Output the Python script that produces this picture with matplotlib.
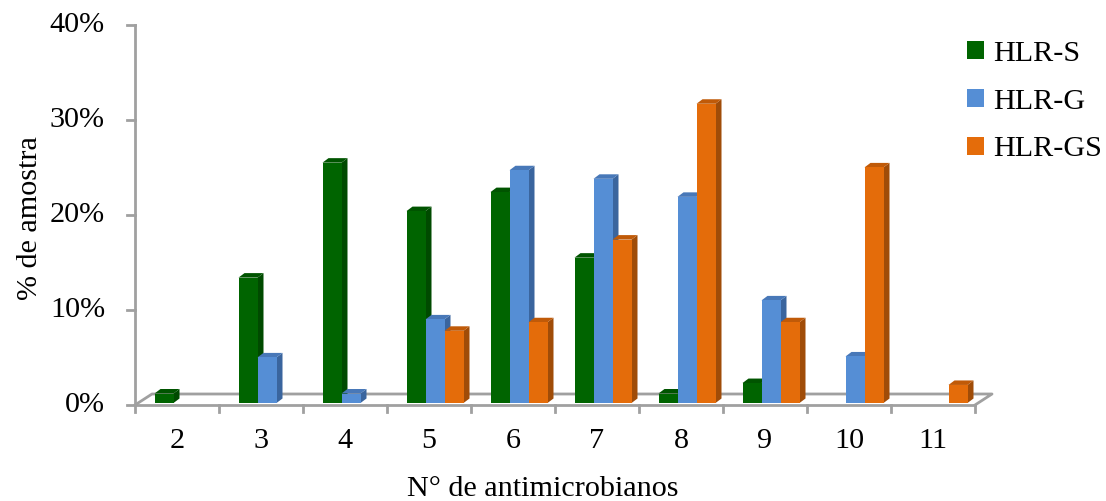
import matplotlib
matplotlib.use("Agg")
import matplotlib.pyplot as plt
from matplotlib.patches import Patch
import numpy as np

categories = ["2", "3", "4", "5", "6", "7", "8", "9", "10", "11"]
series_names = ["HLR-S", "HLR-G", "HLR-GS"]
hlr_s = [1.0, 13.2, 25.3, 20.2, 22.2, 15.3, 1.0, 2.1, 0.0, 0.0]
hlr_g = [0.0, 4.8, 1.0, 8.8, 24.5, 23.6, 21.7, 10.8, 4.9, 0.0]
hlr_gs = [0.0, 0.0, 0.0, 7.6, 8.5, 17.2, 31.5, 8.5, 24.8, 1.9]
yticks = [0, 10, 20, 30, 40]
ytick_labels = ["0%", "10%", "20%", "30%", "40%"]

front = ["#006400", "#558ED5", "#E46C0A"]
side = ["#004A00", "#3A659E", "#A04C08"]
top = ["#005400", "#4878B8", "#C05A08"]

plt.rcParams['font.family'] = ['Liberation Serif', 'DejaVu Serif']
FS = 21.7
W, H = 1106, 501
fig = plt.figure(figsize=(W / 100, H / 100), dpi=100)
x0, x1, y0, y1 = 135, 975, 405, 25
ax = fig.add_axes([x0 / W, 1 - y0 / H, (x1 - x0) / W, (y0 - y1) / H])
n = len(categories)
ax.set_xlim(-0.5, n - 0.5)
ax.set_ylim(0, 40)
ax.axis('off')

upx = n / (x1 - x0)       # data units per pixel in x
upy = 40 / (y0 - y1)      # data units per pixel in y

gray = "#A0A0A0"
# floor
fdx, fdy = 17 * upx, 11 * upy
xl, xr = -0.5, n - 0.5
ax.plot([xl, xl + fdx, xr + fdx, xr], [0, fdy, fdy, 0], color=gray, lw=2, clip_on=False, zorder=1)
ax.plot([xl, xr], [0, 0], color=gray, lw=2, clip_on=False, zorder=1)
# value axis
ax.plot([xl, xl], [0, 40], color=gray, lw=2, clip_on=False, zorder=1)
for t, lab in zip(yticks, ytick_labels):
    ax.plot([xl - 8 * upx, xl], [t, t], color=gray, lw=2, clip_on=False)
    ax.text(xl - 30 * upx, t, lab, ha='right', va='center', fontsize=FS)
# category ticks
for k in range(n + 1):
    ax.plot([k - 0.5, k - 0.5], [0, -7 * upy], color=gray, lw=2, clip_on=False)
for k, c in enumerate(categories):
    ax.text(k, -36 * upy, c, ha='center', va='center', fontsize=FS)

ax.text((xl + xr) / 2 - 0.15, -84 * upy, "N° de antimicrobianos", ha='center', va='center', fontsize=FS)
fig.text(30 / W, 1 - 218 / H, "% de amostra", rotation=90, ha='center', va='center', fontsize=FS)

# bars
offsets = [-13, 6, 25]
bw = 19 * upx
ddx, ddy = 6 * upx, 4.5 * upy
base = 2 * upy
xs = np.arange(n)
for s, vals in enumerate([hlr_s, hlr_g, hlr_gs]):
    xc = xs + offsets[s] * upx
    for xi, v in zip(xc, vals):
        if v <= 0:
            continue
        left, right = xi - bw / 2, xi + bw / 2
        t = base + v
        ax.fill([right, right + ddx, right + ddx, right], [base, base + ddy, t + ddy, t],
                color=side[s], lw=0, zorder=3 + s, clip_on=False)
        ax.fill([left, left + ddx, right + ddx, right], [t, t + ddy, t + ddy, t],
                color=top[s], lw=0, zorder=3 + s, clip_on=False)
    ax.bar(xc, vals, width=bw, bottom=base, color=front[s], zorder=3 + s, linewidth=0)

handles = [Patch(facecolor=front[i]) for i in range(3)]
fig.legend(handles, series_names, loc='upper left', bbox_to_anchor=(955 / W, 1 - 29 / H),
           frameon=False, fontsize=FS, handlelength=0.55, handleheight=0.55,
           handletextpad=0.3, labelspacing=0.72, borderaxespad=0)

fig.savefig("out.png", dpi=100)
